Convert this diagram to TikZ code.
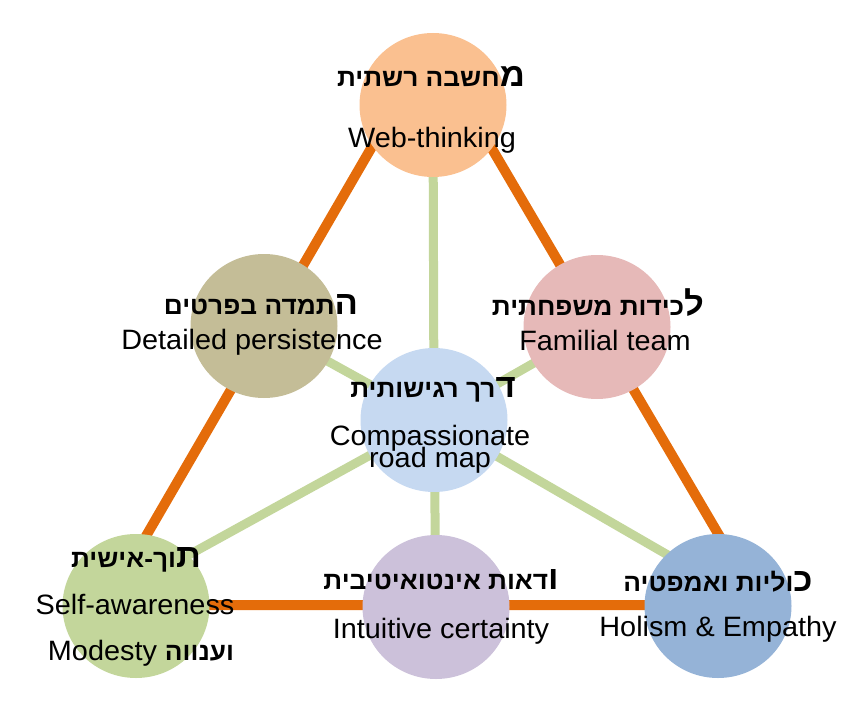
\documentclass[tikz,border=0pt]{standalone}
\usepackage{fontspec}
\setmainfont{Liberation Sans}[FakeStretch=1.03]
\newfontfamily\heb[Script=Hebrew,FakeStretch=1.05]{Liberation Sans}
\TeXXeTstate=1
\usetikzlibrary{shapes.geometric,calc}
\pgfdeclarelayer{background}
\pgfsetlayers{background,main}
\definecolor{cPeach}{HTML}{FAC090}
\definecolor{cTan}{HTML}{C4BD97}
\definecolor{cPink}{HTML}{E6B9B8}
\definecolor{cLblue}{HTML}{C6D9F1}
\definecolor{cGreen}{HTML}{C3D69B}
\definecolor{cPurple}{HTML}{CCC1DA}
\definecolor{cBlue}{HTML}{95B3D7}
\definecolor{lOrange}{HTML}{E46C0A}
\definecolor{lGreen}{HTML}{C3D69B}
\newcommand\firstlet[1]{{\fontsize{33}{33}\selectfont #1}}
\begin{document}
\begin{tikzpicture}[x=1pt,y=-1pt,
  blob/.style={ellipse, minimum width=147pt, minimum height=144pt, inner sep=0pt, draw=none},
  orangeline/.style={draw=lOrange, line width=10pt},
  greenline/.style={draw=lGreen, line width=9pt},
  entext/.style={anchor=base, inner sep=0pt, font=\fontsize{28}{28}\selectfont},
  hetext/.style={anchor=base, inner sep=0pt, font=\heb\bfseries\fontsize{25}{25}\selectfont}]
\useasboundingbox (0,0) rectangle (865,701);
% circles
\node[blob, fill=cPeach]  (top) at (433,105) {};
\node[blob, fill=cTan]    (kh)  at (264,326) {};
\node[blob, fill=cPink]   (pk)  at (597,327) {};
\node[blob, fill=cLblue]  (ctr) at (434,420) {};
\node[blob, fill=cGreen]  (bl)  at (136,606) {};
\node[blob, fill=cPurple] (bm)  at (436,607) {};
\node[blob, fill=cBlue]   (br)  at (718,606) {};
% triangle corners
\coordinate (oA) at (431,45);
\coordinate (oL) at (106,605);
\coordinate (oR) at (760,605);
\begin{pgfonlayer}{background}
  \draw[greenline] (ctr.center) -- (top.center);
  \draw[greenline] (ctr.center) -- (bm.center);
  \draw[greenline] (ctr.center) -- (kh.center);
  \draw[greenline] (ctr.center) -- (pk.center);
  \draw[greenline] (ctr.center) -- ($(bl.center)+(0,-22)$);
  \draw[greenline] (ctr.center) -- ($(br.center)+(0,-22)$);
  \draw[orangeline] (oA) -- (oL) -- (oR) -- cycle;
\end{pgfonlayer}
% texts
\node[hetext] (t1h) at (431,86) {\beginR\firstlet{מ}חשבה רשתית\endR};
\node[entext] (t1e) at (432,147) {Web-thinking};
\node[hetext] (t2h) at (261,314) {\beginR\firstlet{ה}תמדה בפרטים\endR};
\node[entext] (t2e) at (252,349) {Detailed persistence};
\node[hetext] (t3h) at (598,315) {\beginR\firstlet{ל}כידות משפחתית\endR};
\node[entext] (t3e) at (605,350) {Familial team};
\node[hetext] (t4h) at (433,397) {\beginR\firstlet{ד}רך רגישותית\endR};
\node[entext] (t4e) at (430,445) {Compassionate};
\node[entext] (t4f) at (430,467) {road map};
\node[hetext] (t5h) at (136,567) {\beginR\firstlet{ת}וך-אישית\endR};
\node[entext] (t5e) at (135,614) {Self-awareness};
\node[entext] (t5f) at (141,660) {Modesty {\heb\bfseries\fontsize{25}{25}\selectfont\beginR וענווה\endR}};
\node[hetext] (t6h) at (441,589) {\beginR\firstlet{ו}דאות אינטואיטיבית\endR};
\node[entext] (t6e) at (441,638) {Intuitive certainty};
\node[hetext] (t7h) at (718,591) {\beginR\firstlet{כ}וליות ואמפטיה\endR};
\node[entext] (t7e) at (718,636) {Holism \& Empathy};
\end{tikzpicture}
\end{document}
